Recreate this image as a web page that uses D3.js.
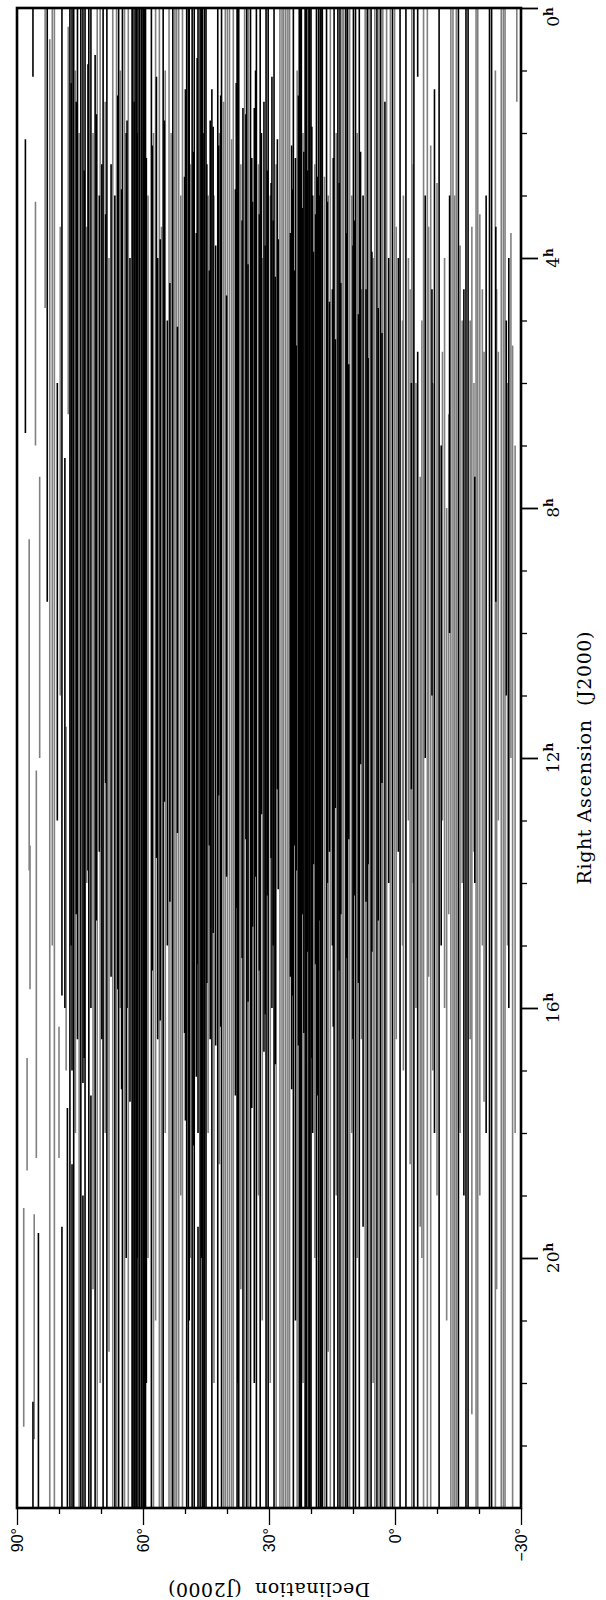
<!DOCTYPE html>
<html>
<head>
<meta charset="utf-8">
<script src="https://cdn.jsdelivr.net/npm/d3@7"></script>
<style>
  body { margin: 0; background: #fff; }
  svg { display: block; }
  text { white-space: pre; }
</style>
</head>
<body>
<svg width="606" height="1600"></svg>
<script>
// scans: [declination (deg), RA start (h), RA end (h)]
var blackScans = [
  [88.0, 2.1, 6.8], [86.2, 0, 1.1], [86.2, 22.3, 24], [84.9, 19.6, 24],
  [82.8, 0, 9.5], [80.4, 6.0, 13.0], [79.3, 0, 15.8], [79.3, 19.5, 24],
  [78.6, 7.2, 16.0], [78.0, 17.6, 24],
  [77.4, 0, 24], [77.1, 1.2, 15.0], [76.9, 0, 17.0], [76.9, 18.5, 24], [76.5, 0, 24],
  [75.9, 1.5, 14.5], [75.6, 0, 16.5], [74.8, 0, 24], [74.3, 0, 17.2], [74.3, 19.0, 24],
  [74.0, 2.6, 16.8], [73.8, 0, 24], [73.1, 0.9, 13.8], [72.9, 0, 24],
  [72.4, 0, 16.0], [72.4, 17.4, 24],
  [71.4, 0.75, 24], [71.1, 1.7, 14.6], [70.4, 3.0, 13.5], [69.8, 2.5, 16.5], [69.5, 0, 24],
  [68.9, 3.3, 12.4], [68.6, 0, 24], [67.6, 2.5, 15.5], [66.7, 3.0, 24], [66.0, 1.4, 15.7],
  [65.8, 0, 24], [65.1, 2.9, 17.3], [64.9, 0, 24], [64.0, 2.0, 20.0], [63.8, 1.8, 16.0],
  [63.1, 4.0, 17.5],
  [62.6, 0, 24], [62.4, 0, 24], [62.1, 1.5, 24], [61.9, 0, 24], [61.6, 0, 24],
  [61.4, 2.0, 20.0], [61.2, 0, 24], [60.8, 0, 24], [60.4, 0, 24], [60.0, 0, 24],
  [59.9, 0, 24], [59.6, 0, 24], [59.4, 0, 24], [59.2, 2.4, 22.0],
  [58.0, 0, 24], [57.8, 2.2, 15.4], [56.8, 1.1, 13.6], [56.5, 4.0, 16.5], [55.9, 3.7, 16.2],
  [55.2, 0, 24], [54.9, 1.8, 12.7], [54.2, 5.0, 15.0], [53.6, 4.4, 14.3], [52.9, 0, 24],
  [51.8, 5.1, 13.2],
  [50.1, 2.7, 16.4], [49.9, 1.3, 17.8], [49.6, 0, 24], [49.2, 0, 24], [49.0, 0, 21.0],
  [48.3, 0, 24], [48.0, 2.3, 18.2], [47.8, 0, 24], [47.3, 3.6, 17.1], [47.1, 0.8, 15.3],
  [46.9, 0, 18.0], [46.9, 19.5, 24], [46.4, 0, 24], [46.1, 0, 20.0], [45.9, 0, 24],
  [45.7, 2.0, 24], [45.4, 0, 24], [45.0, 0, 24], [44.8, 2.5, 15.6], [44.2, 4.2, 13.4],
  [44.0, 1.8, 16.5],
  [43.6, 1.3, 24], [43.3, 1.9, 14.8], [42.7, 3.8, 16.6], [42.2, 0, 24], [42.0, 2.2, 12.6],
  [41.5, 1.4, 16.3], [41.3, 0, 24], [40.1, 4.6, 13.9], [38.0, 2.9, 17.4], [37.8, 1.2, 14.4],
  [37.6, 0, 24], [37.4, 0, 22.0], [37.2, 0, 24], [36.4, 3.4, 15.2], [36.2, 1.6, 24],
  [35.5, 1.7, 13.3], [35.3, 0, 24], [35.0, 4.1, 15.9], [34.4, 0, 24], [34.1, 2.4, 17.6],
  [33.9, 3.1, 14.7], [33.5, 1.6, 22.0], [33.2, 1.0, 13.9], [33.0, 0, 24], [32.3, 3.3, 15.4],
  [32.1, 0, 24], [31.8, 2.0, 12.9], [31.2, 1.5, 16.7], [30.9, 3.8, 16.1], [30.7, 0, 24],
  [30.4, 2.6, 14.2], [30.2, 0, 24],
  [29.5, 2.8, 13.6], [29.3, 1.1, 16.0], [29.0, 3.4, 15.0], [28.8, 0, 24], [28.5, 4.3, 16.9],
  [28.0, 2.1, 12.5], [27.8, 3.7, 14.1], [24.9, 3.6, 15.5], [24.6, 2.2, 17.3], [24.4, 2.9, 15.8],
  [24.2, 0, 24], [23.9, 4.2, 13.4], [23.7, 2.4, 21.0], [23.5, 5.4, 13.8], [23.0, 1.4, 16.6],
  [22.8, 0, 24], [22.5, 0, 24], [22.3, 0, 24], [22.1, 3.2, 14.5], [21.7, 2.3, 16.4],
  [21.4, 0, 24], [21.2, 0, 24], [21.0, 0, 24], [20.8, 2.6, 15.1], [20.5, 0, 24],
  [20.3, 0, 24], [20.0, 0, 24], [19.8, 1.9, 16.8], [19.6, 3.0, 18.0], [19.4, 3.9, 13.7],
  [18.9, 3.3, 15.3], [18.7, 0, 24], [18.5, 2.7, 17.4], [18.2, 0, 24], [18.0, 3.0, 14.6],
  [17.8, 0, 24], [17.6, 0, 24], [17.3, 0, 24],
  [16.3, 0, 24], [16.1, 3.1, 14.0], [15.6, 4.7, 13.5], [14.9, 4.5, 15.0], [14.7, 2.4, 16.3],
  [14.5, 0, 24], [14.2, 5.3, 12.8], [13.6, 0, 24], [13.3, 2.8, 15.4], [13.1, 0, 24],
  [12.9, 4.4, 14.5], [11.7, 0, 24], [11.5, 3.6, 15.2], [11.3, 0, 24], [11.0, 5.7, 13.3],
  [10.0, 3.8, 16.5], [9.9, 0, 24], [9.6, 3.4, 14.2], [9.4, 0, 24], [8.7, 4.9, 15.6],
  [8.5, 0, 24], [8.2, 2.3, 12.1], [7.6, 3.0, 19.5], [6.9, 4.5, 14.3], [6.6, 0, 24],
  [6.4, 5.6, 13.7], [5.7, 0, 24], [5.5, 3.9, 15.1], [4.3, 0, 24], [4.0, 4.8, 14.6],
  [3.4, 0, 24], [3.1, 5.2, 12.4], [2.4, 1.5, 24],
  [1.5, 4.0, 14.0], [0.6, 0, 24], [-0.8, 4.0, 13.5], [-1.2, 0, 24], [-2.6, 0, 24],
  [-3.9, 6.0, 12.5], [-4.5, 0, 24], [-5.4, 0, 1.1], [-5.4, 5.5, 24], [-7.2, 3.0, 12.0],
  [-8.8, 4.5, 11.0], [-9.4, 1.3, 18.0], [-10.5, 0, 24], [-11.0, 7.0, 15.0], [-13.0, 3.0, 10.0],
  [-15.1, 0, 24], [-16.4, 4.5, 19.0], [-16.9, 0, 24], [-17.4, 0, 24], [-19.0, 7.5, 14.0],
  [-21.7, 3.0, 18.0], [-22.5, 0, 24], [-23.0, 0, 24], [-24.0, 3.5, 9.5], [-26.5, 5.0, 11.0],
  [-27.1, 4.0, 16.0]
];

var grayScans = [
  [88.4, 19.2, 22.7], [87.6, 16.8, 18.6], [87.1, 8.5, 13.8], [86.9, 13.4, 15.7],
  [85.6, 3.1, 7.0], [85.4, 12.2, 18.4], [85.9, 19.3, 22.9], [84.6, 7.5, 12.0],
  [83.3, 0, 4.8], [82.2, 0.5, 24], [81.6, 0, 15.0], [81.1, 0, 24], [80.0, 16.3, 18.4],
  [79.7, 3.5, 11.0], [78.3, 11.5, 17.0], [77.8, 0.3, 6.5],
  [76.1, 1.0, 18.0], [75.2, 2.0, 24], [73.4, 3.5, 14.0],
  [71.9, 2.0, 20.5], [70.9, 0, 24], [70.2, 0, 22.0], [69.0, 1.5, 18.0], [68.1, 4.0, 21.5],
  [67.2, 0, 24], [66.3, 0, 24], [65.4, 1.0, 16.0], [64.4, 0, 24], [63.5, 0, 24],
  [58.8, 3.0, 20.0],
  [57.5, 2.0, 24], [57.0, 0, 21.0], [56.1, 0, 24], [55.6, 3.5, 24], [54.7, 1.0, 18.0],
  [53.8, 0, 24], [53.3, 2.0, 24], [52.4, 0, 24], [52.0, 0, 24], [51.5, 0, 24],
  [51.0, 3.0, 19.0], [50.6, 0, 24],
  [48.7, 2.5, 20.0], [44.5, 3.0, 18.0],
  [43.1, 3.0, 22.0], [41.8, 2.0, 18.5], [40.8, 1.5, 24], [40.4, 0, 24], [39.9, 0, 24],
  [39.4, 0, 24], [38.9, 2.1, 24], [38.5, 0, 24], [36.7, 2.5, 20.5], [35.8, 0, 24],
  [34.9, 0, 24], [32.5, 2.5, 19.0], [31.6, 4.0, 21.0],
  [29.7, 3.0, 22.0], [28.3, 2.5, 24], [27.4, 0, 24], [26.9, 0, 24], [26.5, 0, 24],
  [26.0, 0, 24], [25.5, 0, 24], [25.1, 0, 24], [23.3, 1.0, 24], [21.9, 2.0, 22.0],
  [19.1, 2.5, 20.0],
  [16.8, 2.7, 24], [15.9, 3.0, 21.5], [15.4, 0, 24], [14.0, 2.0, 19.0], [12.6, 0, 24],
  [12.2, 0, 24], [10.8, 0, 24], [10.3, 3.0, 18.0], [9.0, 2.0, 20.0], [8.0, 4.5, 16.5],
  [7.1, 0, 24], [6.2, 0, 24], [5.2, 4.0, 22.0], [4.8, 0, 24], [3.8, 0, 24], [2.9, 0, 24],
  [2.0, 0, 24],
  [1.1, 0, 24], [0.1, 0, 24], [-0.3, 3.5, 16.5], [-1.8, 5.0, 15.0], [-2.0, 3.0, 17.0],
  [-3.2, 4.0, 13.0], [-3.6, 4.5, 18.5], [-4.0, 0, 24], [-4.3, 2.5, 14.0], [-5.0, 6.0, 16.0],
  [-6.0, 7.5, 19.5], [-6.4, 5.0, 20.0], [-6.8, 0, 24], [-7.7, 0, 24], [-8.0, 3.5, 15.5],
  [-8.5, 2.2, 24], [-9.0, 6.0, 17.0], [-10.0, 2.8, 19.0],
  [-11.3, 5.5, 13.0], [-11.8, 4.0, 16.0], [-12.3, 8.0, 21.0], [-12.8, 6.5, 14.5],
  [-13.3, 0, 24], [-13.8, 0, 24], [-14.2, 3.0, 24], [-14.6, 0, 24], [-15.5, 3.8, 18.0],
  [-16.0, 5.0, 14.0], [-17.9, 5.0, 16.5], [-18.3, 3.5, 22.5], [-18.8, 6.0, 13.5],
  [-19.3, 0, 24], [-19.7, 0, 24], [-20.2, 3.3, 19.0], [-20.8, 4.5, 15.0], [-21.2, 5.5, 17.5],
  [-23.9, 1.0, 24], [-24.2, 4.5, 20.5], [-24.6, 5.5, 13.0], [-25.3, 0, 24], [-25.8, 0, 24],
  [-26.2, 0, 24], [-26.8, 6.0, 15.0], [-27.6, 3.6, 12.0], [-28.0, 5.4, 24],
  [-28.6, 7.0, 18.0], [-29.0, 0, 1.5]
];

var decMajor = [90, 60, 30, 0, -30];
var decMinor = [80, 70, 50, 40, 20, 10, -10, -20];
var raMajor = [0, 4, 8, 12, 16, 20];
var raMinor = d3.range(1, 24).filter(function(h) { return h % 4 !== 0; });

var svg = d3.select("svg");

var x = d3.scaleLinear().domain([90, -30]).range([17, 521]);
var y = d3.scaleLinear().domain([0, 24]).range([8, 1508]);

var plot = svg.append("g");

plot.append("g").selectAll("line")
    .data(grayScans)
    .enter().append("line")
      .attr("x1", function(d) { return x(d[0]); })
      .attr("x2", function(d) { return x(d[0]); })
      .attr("y1", function(d) { return y(d[1]); })
      .attr("y2", function(d) { return y(d[2]); })
      .attr("stroke", "#808080")
      .attr("stroke-width", 1.6);

plot.append("g").selectAll("line")
    .data(blackScans)
    .enter().append("line")
      .attr("x1", function(d) { return x(d[0]); })
      .attr("x2", function(d) { return x(d[0]); })
      .attr("y1", function(d) { return y(d[1]); })
      .attr("y2", function(d) { return y(d[2]); })
      .attr("stroke", "#000")
      .attr("stroke-width", 1.6);

// declination axis (bottom)
var decAxis = svg.append("g")
    .attr("transform", "translate(0," + y(24) + ")")
    .call(d3.axisBottom(x).tickValues(decMajor).tickSize(17)
      .tickFormat(function(d) { return (d < 0 ? "\u2212" + (-d) : d) + "\u00b0"; }));

decAxis.selectAll("text")
    .attr("transform", "rotate(-90)")
    .attr("x", -20)
    .attr("y", 0)
    .attr("dy", "0.36em")
    .attr("text-anchor", "end")
    .style("font-family", "'Liberation Sans', Arial, sans-serif")
    .style("font-size", "16px")
    .attr("fill", "#000");

svg.append("g")
    .attr("transform", "translate(0," + y(24) + ")")
    .call(d3.axisBottom(x).tickValues(decMinor).tickSize(6).tickFormat(""));

// right ascension axis (right)
var raAxis = svg.append("g")
    .attr("transform", "translate(" + x(-30) + ",0)")
    .call(d3.axisRight(y).tickValues(raMajor).tickSize(17).tickFormat(""));

svg.append("g")
    .attr("transform", "translate(" + x(-30) + ",0)")
    .call(d3.axisRight(y).tickValues(raMinor).tickSize(6).tickFormat(""));

svg.selectAll(".domain").remove();
svg.selectAll(".tick line").attr("stroke", "#000").attr("stroke-width", 1.3);
raAxis.selectAll(".tick line").attr("stroke-width", 1.8);

var raLabels = svg.append("g").selectAll("text")
    .data(raMajor)
    .enter().append("text")
      .attr("transform", function(d) {
        var yy = y(d) + (d === 0 ? 9 : 0);
        return "translate(" + (x(-30) + 38) + "," + yy + ") rotate(-90)";
      })
      .attr("text-anchor", "middle")
      .style("font-family", "'DejaVu Serif', serif")
      .style("font-size", "17px");

raLabels.append("tspan").text(function(d) { return d; });
raLabels.append("tspan")
    .attr("dy", "-0.5em")
    .style("font-size", "12px")
    .style("font-weight", "bold")
    .text("h");

// frame
svg.append("rect")
    .attr("x", x(90))
    .attr("y", y(0))
    .attr("width", x(-30) - x(90))
    .attr("height", y(24) - y(0))
    .attr("fill", "none")
    .attr("stroke", "#000")
    .attr("stroke-width", 2.6);

svg.append("text")
    .attr("transform", "translate(591," + ((y(0) + y(24)) / 2) + ") rotate(-90)")
    .attr("text-anchor", "middle")
    .attr("textLength", 253)
    .attr("lengthAdjust", "spacing")
    .style("font-family", "'DejaVu Serif', serif")
    .style("font-size", "19px")
    .text("Right Ascension  (J2000)");

svg.append("text")
    .attr("transform", "translate(" + ((x(90) + x(-30)) / 2) + ",1583) rotate(180)")
    .attr("text-anchor", "middle")
    .attr("textLength", 202)
    .attr("lengthAdjust", "spacing")
    .style("font-family", "'DejaVu Serif', serif")
    .style("font-size", "19px")
    .text("Declination  (J2000)");
</script>
</body>
</html>
